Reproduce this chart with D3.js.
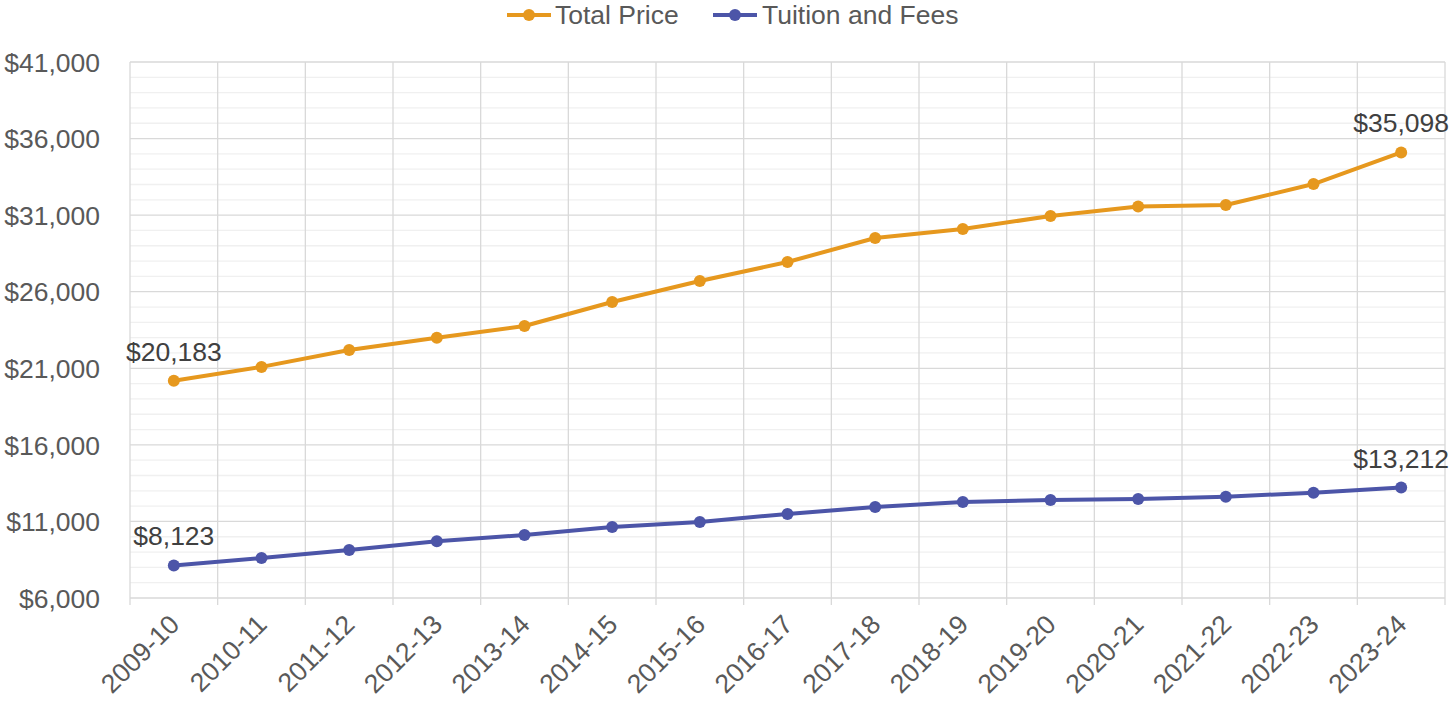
<!DOCTYPE html>
<html><head><meta charset="utf-8">
<script src="https://cdn.jsdelivr.net/npm/d3@7"></script>
<style>html,body{margin:0;padding:0;background:#fff;}svg{display:block;font-family:"Liberation Sans",Arial,sans-serif;}</style>
</head><body><svg id="c" width="1451" height="707"></svg>
<script>
const categories = ["2009-10","2010-11","2011-12","2012-13","2013-14","2014-15","2015-16","2016-17","2017-18","2018-19","2019-20","2020-21","2021-22","2022-23","2023-24"];
const totalPrice = [20183,21090,22190,22990,23760,25330,26700,27940,29510,30100,30940,31560,31660,33030,35098];
const tuitionFees = [8123,8610,9134,9700,10110,10640,10960,11490,11940,12270,12400,12460,12610,12880,13212];
const seriesNames = ["Total Price","Tuition and Fees"];
const yTicks = [6000,11000,16000,21000,26000,31000,36000,41000];

const colors = ["#E6981E","#4C55A8"];
const FS = "26.5px";
const svg = d3.select("#c");
const L=130, R=1445, T=62, B=598;
const x = d3.scaleBand().domain(categories).range([L,R]);
const y = d3.scaleLinear().domain([6000,41000]).range([B,T]);

// minor grid
const minor = d3.range(6000,41001,1000).filter(v=>!yTicks.includes(v));
svg.append("g").selectAll("line").data(minor).join("line")
  .attr("x1",L).attr("x2",R).attr("y1",d=>y(d)).attr("y2",d=>y(d))
  .attr("stroke","#f0f0f0").attr("stroke-width",1.3);
// vertical grid
const bounds = categories.map(c=>x(c)).concat([R]);
svg.append("g").selectAll("line").data(bounds).join("line")
  .attr("x1",d=>d).attr("x2",d=>d).attr("y1",T).attr("y2",B+7)
  .attr("stroke","#d9d9d9").attr("stroke-width",1.3);
// major grid
svg.append("g").selectAll("line").data(yTicks).join("line")
  .attr("x1",L).attr("x2",R).attr("y1",d=>y(d)).attr("y2",d=>y(d))
  .attr("stroke","#d9d9d9").attr("stroke-width",1.3);

// y axis labels
const fmt = d=>"$"+d3.format(",")(d);
const yAxis = d3.axisLeft(y).tickValues(yTicks).tickFormat(fmt).tickSize(0).tickPadding(0);
const yg = svg.append("g").attr("transform",`translate(${L-30},0)`).call(yAxis);
yg.select(".domain").remove();
yg.selectAll("text").attr("font-size",FS).attr("fill","#595959").attr("font-family","Liberation Sans, Arial, sans-serif").attr("dy","0.35em");

// x axis labels
const xAxis = d3.axisBottom(x).tickSize(0).tickPadding(0);
const xg = svg.append("g").attr("transform",`translate(0,${B})`).call(xAxis);
xg.select(".domain").remove();
xg.selectAll("text").attr("font-size",FS).attr("fill","#595959").attr("font-family","Liberation Sans, Arial, sans-serif")
  .attr("text-anchor","end").attr("dy",null).attr("y",null)
  .attr("transform","translate(7,28) rotate(-45)");

// lines
const data = [totalPrice, tuitionFees];
const line = d3.line().x((d,i)=>x(categories[i])+x.bandwidth()/2).y(d=>y(d));
data.forEach((s,k)=>{
  svg.append("path").datum(s).attr("d",line).attr("fill","none").attr("stroke",colors[k]).attr("stroke-width",4).attr("stroke-linejoin","round");
  svg.append("g").selectAll("circle").data(s).join("circle")
    .attr("cx",(d,i)=>x(categories[i])+x.bandwidth()/2).attr("cy",d=>y(d)).attr("r",6).attr("fill",colors[k]);
  // end labels
  [0, s.length-1].forEach(i=>{
    svg.append("text").attr("x",x(categories[i])+x.bandwidth()/2).attr("y",y(s[i])-20)
      .attr("text-anchor","middle").attr("font-size",FS).attr("fill","#404040").text(fmt(s[i]));
  });
});

// legend
const leg = [{x:507,tx:555},{x:713,tx:762}];
seriesNames.forEach((n,k)=>{
  const g = svg.append("g");
  g.append("line").attr("x1",leg[k].x).attr("x2",leg[k].x+44).attr("y1",15).attr("y2",15).attr("stroke",colors[k]).attr("stroke-width",4);
  g.append("circle").attr("cx",leg[k].x+22).attr("cy",15).attr("r",6).attr("fill",colors[k]);
  g.append("text").attr("x",leg[k].tx).attr("y",24).attr("font-size",FS).attr("fill","#595959").text(n);
});
</script></body></html>
